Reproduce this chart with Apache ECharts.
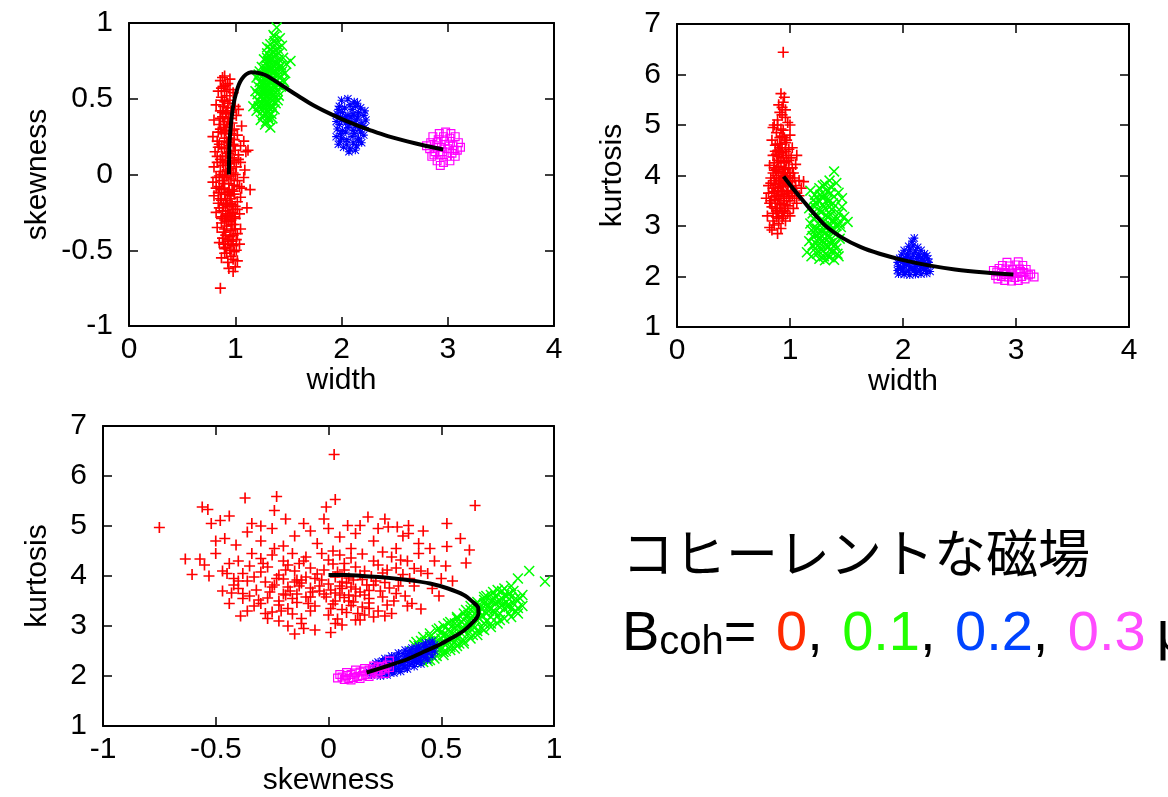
<!DOCTYPE html>
<html><head><meta charset="utf-8">
<script src="https://cdn.jsdelivr.net/npm/echarts@6/dist/echarts.min.js"></script>
<style>html,body{margin:0;padding:0;background:#fff;}#c{width:1168px;height:797px;}</style>
</head><body><div id="c"></div>
<script>
// ---------- Panel 1: width vs skewness ----------
const p1Red = [[0.86,0.62],[0.90,0.65],[0.93,0.60],[0.88,0.64],[0.95,0.63],
[0.84,0.55],[0.89,0.58],[0.92,0.52],[0.95,0.56],[0.87,0.51],[0.98,0.54],[0.91,0.59],
[0.82,0.46],[0.86,0.42],[0.90,0.48],[0.93,0.44],[0.96,0.41],[1.00,0.45],[0.88,0.49],[1.03,0.43],[0.91,0.40],
[0.80,0.36],[0.85,0.33],[0.88,0.38],[0.92,0.31],[0.94,0.37],[0.97,0.34],[1.01,0.39],[0.90,0.35],[1.06,0.32],[0.86,0.30],[0.99,0.30],
[0.79,0.25],[0.83,0.22],[0.87,0.28],[0.90,0.24],[0.93,0.21],[0.96,0.27],[0.99,0.23],[1.02,0.26],[0.91,0.29],[1.08,0.22],[0.85,0.20],[0.95,0.24],
[0.81,0.15],[0.84,0.18],[0.88,0.12],[0.90,0.17],[0.92,0.14],[0.94,0.19],[0.97,0.11],[1.00,0.16],[1.03,0.13],[1.12,0.16],[0.86,0.10],[0.95,0.15],[0.99,0.19],
[0.80,0.05],[0.83,0.08],[0.86,0.02],[0.89,0.06],[0.91,0.09],[0.93,0.03],[0.95,0.07],[0.98,0.01],[1.01,0.05],[1.05,0.08],[1.09,0.03],[0.88,0.00],[0.96,0.04],[1.10,0.15],
[0.79,-0.05],[0.82,-0.02],[0.85,-0.08],[0.88,-0.04],[0.90,-0.09],[0.92,-0.01],[0.94,-0.06],[0.96,-0.03],[0.99,-0.07],[1.02,-0.04],[1.06,-0.09],[0.87,-0.10],[0.97,-0.10],[1.08,-0.02],
[0.80,-0.14],[0.84,-0.12],[0.87,-0.17],[0.90,-0.13],[0.92,-0.19],[0.94,-0.11],[0.96,-0.16],[0.99,-0.13],[1.02,-0.18],[1.05,-0.15],[0.89,-0.20],[0.97,-0.20],[1.14,-0.10],
[0.82,-0.25],[0.85,-0.22],[0.88,-0.28],[0.91,-0.24],[0.93,-0.21],[0.95,-0.27],[0.98,-0.23],[1.00,-0.29],[1.04,-0.26],[0.90,-0.30],[0.96,-0.30],[1.11,-0.22],
[0.83,-0.35],[0.87,-0.32],[0.89,-0.38],[0.92,-0.34],[0.94,-0.31],[0.96,-0.37],[0.99,-0.33],[1.02,-0.39],[1.05,-0.36],[0.91,-0.40],[0.98,-0.40],
[0.85,-0.45],[0.88,-0.42],[0.91,-0.48],[0.93,-0.44],[0.95,-0.41],[0.98,-0.47],[1.01,-0.43],[0.90,-0.49],[1.04,-0.46],
[0.87,-0.55],[0.90,-0.52],[0.93,-0.58],[0.96,-0.54],[0.99,-0.51],[1.02,-0.57],
[0.94,-0.62],[0.98,-0.64],[1.00,-0.61],[0.86,-0.75],
[0.86,0.37],[0.90,0.27],[0.93,0.35],[0.89,0.45],[0.95,0.49],[0.87,0.18],[0.92,0.22],[0.97,0.29],[0.91,0.12],[0.94,0.08],[0.88,0.08],[0.99,0.09],[0.85,-0.01],[0.91,0.02],[0.96,-0.01],[1.00,0.00],
[0.89,-0.06],[0.93,-0.12],[0.98,-0.11],[0.86,-0.16],[0.91,-0.17],[0.95,-0.19],[1.00,-0.21],[0.88,-0.24],[0.93,-0.26],[0.97,-0.25],[1.02,-0.23],[0.87,-0.29],[0.92,-0.31],[0.97,-0.33],[1.00,-0.36],
[0.90,-0.36],[0.94,-0.43],[0.97,-0.44],[0.89,-0.46],[0.92,-0.52],[0.95,-0.50],[0.98,-0.56],[0.93,0.47],[0.90,0.55],[0.88,0.41],[0.84,0.28],[0.83,0.12],[0.82,-0.09],[0.84,-0.19],[1.04,-0.08],
[1.03,0.10],[1.05,0.19],[0.96,0.37],[0.98,0.20],[0.94,0.14],[0.90,-0.02],[0.95,-0.14],[0.99,-0.28],[0.91,-0.27],[0.96,-0.46],[1.01,-0.50],[0.89,0.33],[0.92,0.42],[0.87,0.57]];
const p1Green = [[1.39,0.97],[1.36,0.92],[1.42,0.90],
[1.33,0.86],[1.37,0.88],[1.40,0.83],[1.44,0.85],[1.35,0.81],[1.30,0.84],
[1.27,0.76],[1.30,0.72],[1.33,0.78],[1.36,0.74],[1.39,0.79],[1.42,0.71],[1.45,0.77],[1.48,0.73],[1.25,0.71],[1.34,0.70],[1.52,0.75],
[1.22,0.66],[1.25,0.62],[1.28,0.68],[1.30,0.64],[1.32,0.61],[1.35,0.67],[1.37,0.63],[1.40,0.69],[1.43,0.65],[1.46,0.61],[1.27,0.60],[1.33,0.69],[1.20,0.64],[1.38,0.66],
[1.19,0.55],[1.22,0.58],[1.25,0.52],[1.28,0.56],[1.30,0.59],[1.32,0.53],[1.34,0.57],[1.37,0.51],[1.40,0.55],[1.43,0.58],[1.26,0.50],[1.35,0.54],[1.29,0.51],[1.21,0.53],
[1.17,0.45],[1.20,0.42],[1.23,0.48],[1.26,0.44],[1.29,0.47],[1.31,0.41],[1.34,0.46],[1.37,0.43],[1.40,0.49],[1.28,0.40],[1.22,0.45],
[1.24,0.36],[1.28,0.33],[1.31,0.38],[1.33,0.31],[1.29,0.35],[1.35,0.37],[1.26,0.39],
[1.31,0.75],[1.29,0.70],[1.36,0.72],[1.41,0.76],[1.33,0.65],[1.27,0.66],[1.39,0.62],[1.24,0.57],[1.31,0.55],[1.36,0.59],[1.41,0.52],[1.27,0.53],[1.33,0.50],[1.38,0.47],
[1.25,0.47],[1.32,0.44],[1.30,0.80],[1.38,0.82],[1.34,0.76],[1.44,0.68],[1.23,0.61],[1.29,0.62],[1.35,0.63],[1.31,0.67],[1.42,0.60],[1.26,0.42],[1.34,0.40],[1.30,0.45],
[1.28,0.58],[1.34,0.62],[1.38,0.58],[1.32,0.71],[1.36,0.78],[1.40,0.73],[1.29,0.48],[1.35,0.49],[1.31,0.59],[1.27,0.63],[1.42,0.64],[1.37,0.69],[1.33,0.83],[1.39,0.86],[1.24,0.52],
[1.21,0.49],[1.45,0.62],[1.47,0.67],[1.26,0.56],[1.30,0.52],[1.36,0.53],[1.32,0.36],[1.27,0.45],[1.40,0.59],[1.23,0.68],[1.35,0.44],[1.43,0.72],[1.30,0.77],[1.37,0.91],[1.41,0.80]];
const p1Blue = [[1.97,0.20],[2.02,0.18],[2.08,0.17],[2.14,0.19],[2.19,0.21],
[1.95,0.25],[2.00,0.24],[2.05,0.23],[2.10,0.25],[2.16,0.24],[2.21,0.26],
[1.96,0.30],[2.01,0.29],[2.06,0.31],[2.11,0.29],[2.17,0.30],[2.22,0.31],
[1.95,0.35],[2.00,0.36],[2.04,0.34],[2.09,0.35],[2.14,0.36],[2.19,0.34],[2.23,0.36],
[1.96,0.40],[2.01,0.41],[2.06,0.39],[2.11,0.40],[2.16,0.41],[2.21,0.39],
[1.98,0.45],[2.03,0.44],[2.08,0.46],[2.13,0.45],[2.18,0.44],
[2.00,0.49],[2.06,0.50],[2.12,0.48],
[1.99,0.27],[2.04,0.28],[2.12,0.27],[2.18,0.28],[1.98,0.33],[2.07,0.33],[2.13,0.32],[2.20,0.32],[1.99,0.38],[2.04,0.38],[2.09,0.38],[2.15,0.38],
[2.22,0.42],[1.97,0.43],[2.10,0.43],[2.15,0.47],[2.05,0.20],[2.11,0.21],[2.16,0.22],[1.99,0.22],[2.07,0.15],[2.13,0.16]];
const p1Magenta = [[2.85,0.12],[2.90,0.09],[2.96,0.08],[3.02,0.09],[3.07,0.12],
[2.83,0.17],[2.88,0.15],[2.93,0.13],[2.99,0.12],[3.04,0.14],[3.09,0.16],
[2.84,0.21],[2.89,0.19],[2.94,0.18],[3.00,0.17],[3.05,0.19],[3.10,0.21],
[2.86,0.25],[2.91,0.23],[2.97,0.22],[3.02,0.24],[3.07,0.25],
[2.92,0.27],[2.98,0.28],[3.03,0.27],
[2.95,0.15],[3.01,0.20],[2.90,0.21],[3.06,0.16],[2.96,0.25],[2.87,0.13],[3.12,0.18],[2.93,0.06],[2.80,0.19]];
const p1Curve = [[0.94,0.0],[0.942,0.10],[0.946,0.21],[0.955,0.30],[0.967,0.385],[0.985,0.47],[1.009,0.54],[1.035,0.595],[1.061,0.63],[1.10,0.66],[1.148,0.675],[1.21,0.672],[1.287,0.655],[1.37,0.62],[1.461,0.578],[1.60,0.515],[1.739,0.455],[1.91,0.395],[2.087,0.341],[2.26,0.295],[2.435,0.253],[2.70,0.205],[2.957,0.165]];

// ---------- Panel 2: width vs kurtosis ----------
const p2Red = [[0.92,5.62],[0.95,5.55],[0.90,5.40],[0.96,5.30],[0.93,5.20],[0.89,5.10],[0.98,5.05],[0.86,5.00],[0.94,5.45],[1.00,5.00],[0.91,5.25],
[0.85,4.95],[0.88,4.85],[0.91,4.75],[0.94,4.90],[0.97,4.70],[1.00,4.80],[0.87,4.60],[0.93,4.55],[0.96,4.65],[0.90,4.50],[1.02,4.55],[0.84,4.70],
[0.82,4.20],[0.85,4.40],[0.87,4.10],[0.89,4.30],[0.91,4.45],[0.93,4.05],[0.95,4.25],[0.97,4.40],[0.99,4.15],[1.01,4.35],[1.03,4.05],[1.06,4.40],[0.88,4.00],[0.94,4.35],[0.98,4.00],[0.90,4.18],[1.05,4.22],
[0.79,3.55],[0.81,3.80],[0.84,3.65],[0.86,3.90],[0.88,3.60],[0.90,3.75],[0.92,3.95],[0.94,3.55],[0.96,3.85],[0.98,3.70],[1.00,3.95],[1.02,3.60],[1.05,3.80],[1.08,3.90],[1.12,3.88],[0.87,3.52],[0.93,3.68],[0.97,3.50],[1.04,3.55],[1.10,3.75],[0.83,3.95],[0.91,3.85],
[0.80,3.20],[0.82,3.45],[0.85,3.10],[0.87,3.35],[0.89,3.25],[0.91,3.45],[0.93,3.15],[0.95,3.30],[0.98,3.40],[1.00,3.20],[1.03,3.35],[1.06,3.45],[0.86,3.02],[0.90,3.05],[0.96,3.10],
[0.84,2.92],[0.89,2.85],[0.82,2.97],[0.92,2.95],[0.94,6.44],
[0.85,3.75],[0.89,3.45],[0.92,3.62],[0.95,3.98],[0.99,3.58],[0.88,4.12],[0.92,4.28],[0.96,4.12],[0.90,3.90],[0.94,3.80],[0.86,4.25],[0.97,3.65],[1.01,3.78],[0.89,4.62],[0.93,4.78],
[0.91,3.35],[0.95,3.42],[0.87,3.82],[0.99,4.52],[0.92,4.62],[0.84,3.38],[0.96,4.48],[0.90,4.38],[1.02,4.15],[0.86,3.68],[0.93,3.28],[0.98,3.25],[0.88,3.18],[0.94,4.05],[1.00,3.88],
[0.83,3.50],[0.86,3.58],[0.89,3.70],[0.92,3.78],[0.95,3.62],[0.98,3.82],[1.01,3.68],[1.04,3.95],[0.88,3.95],[0.93,3.90],[0.97,3.96],[0.85,4.05],[0.90,4.08],[0.95,4.15],[1.00,4.05],
[0.88,4.42],[0.93,4.45],[0.97,4.28],[0.91,4.55],[0.95,4.75],[0.92,4.92],[0.89,5.00],[0.96,5.15],[0.93,5.35],[0.88,3.30],[0.92,3.42],[0.96,3.35],[1.00,3.50],[0.85,3.25],[0.90,3.15],
[0.81,3.65],[0.83,3.85],[1.06,3.65],[1.08,3.60],[1.02,3.90],[0.87,4.48],[0.99,4.30],[0.94,3.20],[0.90,3.58],[0.86,4.15]];
const p2Green = [[1.39,4.08],[1.35,3.90],[1.31,3.82],[1.41,3.85],
[1.18,3.70],[1.22,3.62],[1.26,3.75],[1.29,3.55],[1.33,3.68],[1.36,3.78],[1.39,3.58],[1.43,3.66],[1.25,3.52],[1.31,3.60],[1.46,3.55],
[1.17,3.35],[1.20,3.25],[1.23,3.45],[1.26,3.30],[1.29,3.42],[1.32,3.22],[1.34,3.48],[1.37,3.32],[1.40,3.40],[1.43,3.25],[1.46,3.38],[1.28,3.28],[1.35,3.38],[1.22,3.38],[1.31,3.35],
[1.18,3.05],[1.21,3.15],[1.24,2.95],[1.27,3.10],[1.30,3.00],[1.33,3.18],[1.36,2.92],[1.39,3.08],[1.42,3.15],[1.45,2.98],[1.51,3.08],[1.26,3.02],[1.32,2.95],[1.38,3.12],[1.22,2.92],[1.35,3.04],[1.48,3.18],
[1.17,2.70],[1.20,2.80],[1.23,2.65],[1.26,2.85],[1.29,2.72],[1.32,2.62],[1.35,2.78],[1.38,2.68],[1.41,2.84],[1.44,2.75],[1.25,2.75],[1.31,2.85],[1.36,2.66],[1.28,2.62],[1.40,2.62],
[1.15,2.48],[1.19,2.40],[1.22,2.55],[1.26,2.35],[1.29,2.50],[1.33,2.42],[1.36,2.55],[1.39,2.33],[1.42,2.45],[1.31,2.32],[1.24,2.45],[1.35,2.38],
[1.27,3.62],[1.33,3.52],[1.38,3.45],[1.24,3.20],[1.30,3.10],[1.36,3.22],[1.41,3.00],[1.28,2.90],[1.34,2.82],[1.39,2.92],[1.23,2.82],[1.27,2.55],[1.32,2.72],[1.37,2.48],[1.41,2.55],
[1.30,2.40],[1.25,2.62],[1.20,2.62],[1.44,3.05],[1.21,3.52],[1.29,3.80],[1.36,3.65],[1.19,2.92],[1.43,2.40],[1.34,2.58]];
const p2Blue = [[1.96,2.05],[2.01,2.04],[2.06,2.03],[2.11,2.04],[2.16,2.05],[2.21,2.06],
[1.95,2.12],[2.00,2.13],[2.05,2.11],[2.10,2.12],[2.15,2.13],[2.20,2.12],[2.24,2.10],
[1.96,2.20],[2.01,2.21],[2.06,2.19],[2.11,2.20],[2.16,2.21],[2.21,2.19],
[1.95,2.28],[2.00,2.29],[2.04,2.27],[2.09,2.28],[2.14,2.29],[2.19,2.27],[2.23,2.28],
[1.97,2.36],[2.02,2.37],[2.07,2.35],[2.12,2.36],[2.17,2.37],[2.22,2.35],
[1.99,2.44],[2.04,2.45],[2.09,2.43],[2.14,2.44],[2.19,2.45],
[2.01,2.52],[2.06,2.53],[2.11,2.51],[2.16,2.52],
[2.05,2.60],[2.09,2.62],[2.13,2.58],[2.08,2.70],[2.10,2.76],
[1.98,2.16],[2.08,2.16],[2.18,2.16],[2.03,2.24],[2.13,2.24],[1.98,2.32],[2.07,2.32],[2.17,2.32],[2.04,2.40],[2.14,2.40],[2.21,2.41],[2.02,2.08],[2.12,2.08],[2.22,2.23]];
const p2Magenta = [[2.84,1.95],[2.90,1.92],[2.96,1.91],[3.02,1.92],[3.08,1.95],
[2.82,2.02],[2.87,2.00],[2.93,1.99],[2.99,1.98],[3.05,2.00],[3.11,2.03],
[2.83,2.09],[2.89,2.08],[2.95,2.07],[3.01,2.06],[3.07,2.08],[3.13,2.05],
[2.85,2.16],[2.91,2.15],[2.97,2.14],[3.03,2.15],[3.09,2.14],
[2.88,2.22],[2.94,2.21],[3.00,2.23],[3.06,2.22],
[2.92,2.28],[3.02,2.29],[3.16,1.99],[2.80,2.12],[2.96,2.03],[3.04,2.10],[2.91,2.04]];
const p2Curve = [[0.943,3.98],[1.027,3.74],[1.127,3.47],[1.227,3.21],[1.327,2.98],[1.46,2.77],[1.627,2.58],[1.793,2.45],[1.993,2.33],[2.227,2.22],[2.46,2.14],[2.727,2.08],[2.977,2.04]];

// ---------- Panel 3: skewness vs kurtosis ----------
const p3Red = [[-0.75,4.97],[-0.56,5.38],[-0.535,5.33],[-0.37,5.56],[-0.23,5.59],[0.025,6.43],[0.03,5.53],[-0.01,5.38],[0.65,5.41],[-0.635,4.34],[-0.57,4.34],[-0.605,4.03],[-0.53,4.00],[-0.47,3.70],[-0.43,3.66],[-0.15,2.84],[-0.11,2.95],[0.01,2.87],
[0.525,4.59],[0.585,4.75],[0.625,4.52],[0.61,4.26],[0.41,3.34],[0.49,3.60],[0.55,3.90],[0.525,5.05],[0.355,5.01],[0.355,4.85],[-0.52,5.05],[-0.48,5.11],[-0.44,5.20],[-0.24,5.31],[-0.34,5.05],[-0.19,5.14],[-0.11,5.05],[-0.02,5.14],[0.085,5.01],[0.14,5.01],[0.175,5.18],[0.25,5.14],[0.265,4.98],[0.305,4.98],
[-0.46,4.75],[-0.41,4.62],[-0.36,4.88],[-0.30,4.70],[-0.25,4.95],[-0.15,4.80],[-0.08,4.90],[0.05,4.78],[0.12,4.85],[0.20,4.70],[0.33,4.80],[0.42,4.90],[0.45,4.55],[0.40,4.45],[0.47,4.30],[0.52,4.20],[0.44,4.05],[0.50,3.95],[0.38,3.80],[0.46,3.75],
[-0.50,4.45],[-0.44,4.25],[-0.47,4.10],[-0.40,3.90],[-0.38,3.55],[-0.33,3.40],[-0.28,3.25],[-0.22,3.10],[-0.18,3.00],[-0.06,2.92],[0.06,3.02],[0.12,3.12],[0.20,3.18],[0.28,3.25],[0.35,3.40],[-0.50,4.70],[-0.30,5.00],[0.00,4.95],[0.22,4.95],[-0.55,4.22],[0.40,4.65],[-0.42,3.95],[0.34,3.60],[0.30,4.55],[-0.20,4.60],[-0.05,4.65],
[-0.30,4.35],[-0.20,4.30],[-0.10,4.38],[0.00,4.32],[0.10,4.36],[0.20,4.30],[0.28,4.38],[-0.25,4.42],[0.05,4.42],[0.15,4.44],
[-0.35,4.20],[-0.27,4.18],[-0.18,4.22],[-0.08,4.16],[0.02,4.24],[0.12,4.18],[0.22,4.22],[0.30,4.16],[-0.13,4.25],[0.07,4.12],
[-0.38,4.05],[-0.30,4.08],[-0.22,4.02],[-0.15,4.10],[-0.05,4.04],[0.04,4.08],[0.14,4.02],[0.24,4.06],[0.33,4.03],[-0.10,3.98],[0.09,3.96],[0.19,3.99],
[-0.36,3.90],[-0.28,3.88],[-0.20,3.94],[-0.12,3.86],[-0.03,3.92],[0.06,3.88],[0.15,3.93],[0.25,3.87],[0.32,3.92],[-0.24,3.82],[0.00,3.84],[0.20,3.82],
[-0.40,3.75],[-0.32,3.72],[-0.25,3.78],[-0.17,3.70],[-0.08,3.76],[0.01,3.72],[0.10,3.78],[0.18,3.71],[0.27,3.76],[-0.13,3.80],[0.05,3.80],[0.14,3.68],
[-0.35,3.60],[-0.27,3.56],[-0.19,3.62],[-0.10,3.58],[-0.02,3.64],[0.07,3.57],[0.16,3.62],[0.24,3.58],[0.30,3.65],[-0.22,3.50],[0.03,3.50],[0.11,3.48],
[-0.30,3.45],[-0.22,3.42],[-0.14,3.47],[-0.06,3.40],[0.02,3.44],[0.10,3.41],[0.18,3.46],[0.26,3.42],[-0.18,3.35],[0.06,3.33],
[-0.25,3.28],[-0.16,3.24],[-0.08,3.30],[0.00,3.22],[0.08,3.27],[0.16,3.22],[0.22,3.30],[-0.12,3.15],[0.04,3.14],[0.14,3.12],
[-0.07,3.68],[0.03,3.66],[-0.12,3.92],[0.08,3.86],[-0.04,3.80],[-0.18,3.78],[0.12,3.74],[-0.01,3.58],[0.09,3.62],[-0.14,3.64],
[-0.42,3.82],[-0.38,3.65],[-0.33,3.98],[-0.31,3.52],[-0.29,4.25],[-0.26,3.68],[-0.23,3.95],[-0.21,3.30],[-0.19,4.12],[-0.16,3.55],[-0.15,3.88],[-0.11,4.30],[-0.09,3.45],[-0.06,3.95],[-0.04,3.70],
[-0.02,4.12],[0.01,3.35],[0.03,3.98],[0.05,3.62],[0.07,4.25],[0.09,3.50],[0.11,3.92],[0.13,3.25],[0.16,4.10],[0.18,3.55],[0.21,3.90],[0.23,3.70],[0.26,4.12],[0.29,3.50],[0.31,3.80],
[0.36,3.95],[0.38,4.15],[0.35,4.30],[-0.40,4.30],[-0.36,3.30],[-0.27,3.15],[-0.12,3.05],[0.03,3.05],[0.18,3.35],[0.25,3.20],[-0.44,3.45],[-0.34,4.45],[-0.16,4.45],[0.02,4.50],[0.24,4.48],
[-0.08,3.58],[-0.20,3.64],[0.12,3.60],[-0.14,3.92],[0.06,3.75],[0.17,3.82],[-0.03,4.45],[0.32,4.32],[-0.24,4.55],[0.10,4.55],[-0.45,4.05],[0.41,4.10],[0.37,3.45],[-0.39,3.20],[0.15,3.38]];
const p3Green = [[0.37,2.50],[0.39,2.42],[0.40,2.60],[0.41,2.35],[0.42,2.52],[0.38,2.62],
[0.43,2.45],[0.44,2.68],[0.45,2.55],[0.46,2.40],[0.47,2.72],[0.48,2.58],[0.44,2.30],[0.46,2.62],[0.48,2.48],
[0.49,2.70],[0.50,2.55],[0.51,2.82],[0.52,2.62],[0.53,2.92],[0.54,2.75],[0.50,2.88],[0.52,2.50],[0.53,2.70],[0.54,2.58],[0.51,2.66],
[0.55,2.85],[0.56,2.68],[0.57,3.00],[0.58,2.80],[0.59,3.08],[0.60,2.92],[0.56,2.95],[0.57,2.75],[0.58,3.05],[0.59,2.85],[0.60,3.12],[0.55,2.72],
[0.61,3.00],[0.62,2.85],[0.63,3.15],[0.64,3.02],[0.65,3.25],[0.66,3.10],[0.62,3.08],[0.63,2.95],[0.64,3.20],[0.65,2.98],[0.66,3.30],[0.61,3.18],
[0.67,3.15],[0.68,3.35],[0.69,3.05],[0.70,3.25],[0.71,3.40],[0.72,3.18],[0.68,3.22],[0.69,3.45],[0.70,3.10],[0.71,3.30],[0.72,3.50],[0.67,3.38],
[0.73,3.30],[0.74,3.45],[0.75,3.20],[0.76,3.38],[0.77,3.55],[0.78,3.35],[0.74,3.60],[0.75,3.48],[0.76,3.25],[0.77,3.42],[0.78,3.62],[0.73,3.52],
[0.79,3.48],[0.80,3.40],[0.81,3.58],[0.82,3.45],[0.80,3.65],[0.83,3.30],[0.83,3.55],[0.84,3.95],
[0.89,4.10],[0.96,3.89],[0.86,3.62],[0.84,3.36],
[0.41,2.70],[0.45,2.78],[0.49,2.95],[0.53,3.05],[0.57,3.18],[0.61,3.32],[0.65,3.42],[0.69,3.58],[0.73,3.68],[0.77,3.70],[0.42,2.28],[0.47,2.35],[0.51,2.42],[0.56,2.55],[0.60,2.70],
[0.64,2.82],[0.68,2.95],[0.72,3.05],[0.76,3.12],[0.80,3.25],[0.82,3.70],[0.79,3.60],[0.85,3.55],[0.81,3.35],[0.63,3.40],[0.58,2.65],[0.54,2.90],[0.70,3.60],[0.74,3.28],[0.66,2.90],
[0.39,2.68],[0.42,2.78],[0.45,2.85],[0.48,2.92],[0.51,3.00],[0.54,3.08],[0.57,3.15],[0.60,3.25],[0.63,3.32],[0.66,3.48],[0.69,3.52],[0.72,3.62],[0.75,3.72],[0.78,3.75],[0.81,3.80],
[0.45,2.32],[0.48,2.40],[0.51,2.48],[0.54,2.52],[0.57,2.60],[0.60,2.65],[0.63,2.75],[0.66,2.82],[0.69,2.92],[0.72,2.98],[0.75,3.05],[0.78,3.15],[0.81,3.18],[0.84,3.25],[0.86,3.40],
[0.47,2.65],[0.53,2.80],[0.59,2.95],[0.62,3.22],[0.67,3.28],[0.71,3.35],[0.76,3.50],[0.79,3.40],[0.56,3.05],[0.50,2.75]];
const p3Blue = [[0.19,2.02],[0.20,2.10],[0.21,2.16],[0.22,2.06],[0.23,2.13],[0.24,2.20],[0.25,2.09],[0.26,2.17],[0.27,2.24],[0.28,2.12],[0.29,2.20],[0.30,2.28],[0.31,2.16],[0.32,2.25],[0.33,2.33],[0.34,2.20],[0.35,2.30],[0.36,2.38],[0.37,2.26],[0.38,2.35],[0.39,2.43],[0.40,2.31],[0.41,2.40],[0.42,2.48],[0.43,2.37],[0.44,2.46],[0.45,2.55],[0.46,2.50],[0.47,2.62],[0.45,2.66],[0.43,2.58],
[0.22,2.22],[0.24,2.04],[0.27,2.07],[0.30,2.12],[0.33,2.15],[0.36,2.22],[0.39,2.28],[0.41,2.30],[0.28,2.30],[0.31,2.34],[0.34,2.40],[0.37,2.45],[0.40,2.52],[0.25,2.26],[0.20,2.19],[0.18,2.08],[0.29,2.15],[0.33,2.24],[0.38,2.30],[0.42,2.40],
[0.21,2.25],[0.24,2.30],[0.27,2.35],[0.30,2.40],[0.33,2.45],[0.36,2.50],[0.39,2.55],[0.42,2.60],[0.23,2.00],[0.26,2.02],[0.29,2.06],[0.32,2.09],[0.35,2.14],[0.38,2.19],[0.41,2.24],[0.44,2.32],[0.46,2.40],[0.44,2.56],[0.47,2.50],[0.40,2.42],
[0.22,2.28],[0.25,2.35],[0.28,2.40],[0.31,2.46],[0.34,2.52],[0.37,2.56],[0.40,2.60],[0.43,2.66],[0.46,2.70],[0.30,2.32],[0.35,2.44],[0.39,2.50],[0.26,2.28]];
const p3Magenta = [[0.04,1.96],[0.06,1.98],[0.07,1.93],[0.08,2.01],[0.09,1.95],[0.10,2.03],[0.11,1.97],[0.12,2.06],[0.13,1.99],[0.14,2.08],[0.15,2.01],[0.16,2.10],[0.17,2.03],[0.18,2.12],[0.19,2.06],[0.20,2.14],[0.21,2.08],[0.22,2.17],[0.23,2.11],[0.24,2.19],[0.25,2.14],[0.26,2.22],[0.27,2.17],[0.27,2.30],
[0.10,1.92],[0.14,1.95],[0.18,1.99],[0.22,2.04],[0.12,2.12],[0.16,2.15],[0.20,2.20],[0.08,2.07],[0.25,2.05],[0.05,2.03]];
const p3Curve = [[0.0,4.02],[0.08,4.02],[0.15,4.00],[0.25,3.97],[0.35,3.92],[0.45,3.85],[0.53,3.75],[0.60,3.62],[0.64,3.48],[0.664,3.36],[0.665,3.25],[0.657,3.16],[0.63,3.03],[0.598,2.90],[0.55,2.77],[0.494,2.63],[0.42,2.48],[0.347,2.33],[0.26,2.20],[0.169,2.07]];

// ---------- axes & legend text ----------
const widthRange = [0, 4, 1];
const skewRange = [-1, 1, 0.5];
const kurtRange = [1, 7, 1];
const titleText = 'コヒーレントな磁場';
const legendValues = ['0', '0.1', '0.2', '0.3'];
const legendColors = ['#ff2a00', '#22ff00', '#0044ff', '#ff4cff'];

const FONT = '"Liberation Sans", Arial, Helvetica, sans-serif';
const TS = 30;

const PLUS = 'path://M4.25,0H5.75V4.25H10V5.75H5.75V10H4.25V5.75H0V4.25H4.25Z';
const CROSS = 'path://M0,1L1,0L5,4L9,0L10,1L6,5L10,9L9,10L5,6L1,10L0,9L4,5Z';
const STAR = 'path://M4.3,0H5.7V4.3H10V5.7H5.7V10H4.3V5.7H0V4.3H4.3Z M0,0.9L0.9,0L5,4.1L9.1,0L10,0.9L5.9,5L10,9.1L9.1,10L5,5.9L0.9,10L0,9.1L4.1,5Z';
const SQUARE = 'path://M0,0H10V10H0Z M1.3,1.3V8.7H8.7V1.3Z';

const grids = [
  {left: 129, top: 23, width: 425, height: 303},
  {left: 677, top: 24, width: 452, height: 303},
  {left: 103, top: 426, width: 451, height: 303}
];

function axis(dim, gi, r, pos, name, gap, main) {
  return {
    type: 'value', gridIndex: gi, min: r[0], max: r[1], interval: r[2], position: pos,
    name: main ? name : '', nameLocation: 'middle', nameGap: gap,
    nameTextStyle: {fontSize: TS, color: '#000', fontFamily: FONT},
    axisLine: {show: true, onZero: false, lineStyle: {color: '#000', width: 2}},
    axisTick: {show: true, inside: true, length: 9, lineStyle: {color: '#000', width: 1.5}},
    axisLabel: {show: main, fontSize: TS, color: '#000', fontFamily: FONT, margin: dim === 'x' ? 9 : 16},
    splitLine: {show: false}
  };
}

const xAxes = [
  axis('x', 0, widthRange, 'bottom', 'width', 40, true), axis('x', 0, widthRange, 'top', '', 0, false),
  axis('x', 1, widthRange, 'bottom', 'width', 40, true), axis('x', 1, widthRange, 'top', '', 0, false),
  axis('x', 2, skewRange, 'bottom', 'skewness', 40, true), axis('x', 2, skewRange, 'top', '', 0, false)
];
const yAxes = [
  axis('y', 0, skewRange, 'left', 'skewness', 76, true), axis('y', 0, skewRange, 'right', '', 0, false),
  axis('y', 1, kurtRange, 'left', 'kurtosis', 49, true), axis('y', 1, kurtRange, 'right', '', 0, false),
  axis('y', 2, kurtRange, 'left', 'kurtosis', 50, true), axis('y', 2, kurtRange, 'right', '', 0, false)
];

function sc(data, ai, sym, size, color) {
  return {type: 'scatter', xAxisIndex: ai, yAxisIndex: ai, data: data, symbol: sym, symbolSize: size,
    itemStyle: {color: color, opacity: 1}, emphasis: {disabled: true}, silent: true, z: 2};
}
function cv(data, ai) {
  return {type: 'line', xAxisIndex: ai, yAxisIndex: ai, data: data, smooth: 0.35, showSymbol: false,
    lineStyle: {color: '#000', width: 4}, silent: true, z: 5};
}
const C = {r: '#ff0000', g: '#00ff00', b: '#0000ff', m: '#ff00ff'};
const series = [];
[[p1Red, p1Green, p1Blue, p1Magenta, p1Curve, 0],
 [p2Red, p2Green, p2Blue, p2Magenta, p2Curve, 2],
 [p3Red, p3Green, p3Blue, p3Magenta, p3Curve, 4]].forEach(function (p) {
  const ai = p[5];
  series.push(sc(p[0], ai, PLUS, 11, C.r));
  series.push(sc(p[1], ai, CROSS, 11, C.g));
  series.push(sc(p[2], ai, STAR, 8, C.b));
  series.push(sc(p[3], ai, SQUARE, 9, C.m));
  series.push(cv(p[4], ai));
});

const tok = function (size, color) {
  return {fontSize: size, fontFamily: FONT, fill: color, lineHeight: 60, verticalAlign: 'bottom'};
};
const rich = {a: tok(56, '#000'), s: tok(40, '#000'), w: tok(70, '#000')};
let line2 = '{a|B}{s|coh}{a|=}{w| }';
legendValues.forEach(function (v, i) {
  rich['c' + i] = tok(56, legendColors[i]);
  line2 += '{c' + i + '|' + v + '}' + (i < legendValues.length - 1 ? '{a|,}{w| }' : '{s| }{a|μG}');
});

const chart = echarts.init(document.getElementById('c'), null, {renderer: 'canvas'});
chart.setOption({
  animation: false,
  backgroundColor: '#fff',
  grid: grids,
  xAxis: xAxes,
  yAxis: yAxes,
  series: series,
  graphic: [
    {type: 'text', x: 622, y: 553, style: {text: titleText, font: '52px "Noto Sans CJK JP"', fill: '#000', verticalAlign: 'middle'}},
    {type: 'text', x: 622, y: 633, style: {text: line2, rich: rich, verticalAlign: 'middle', fill: '#000', font: '56px ' + FONT}}
  ]
});
</script>
</body></html>
